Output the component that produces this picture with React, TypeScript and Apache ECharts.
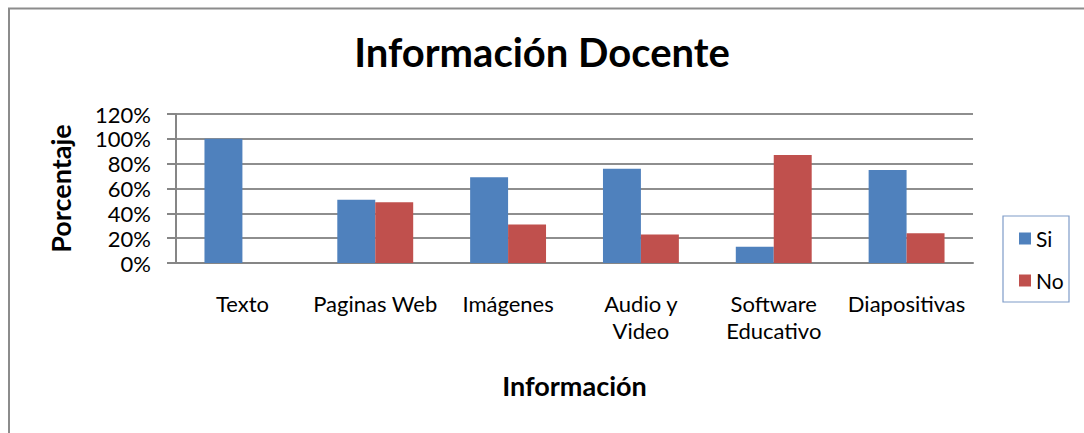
import React, { useEffect, useRef } from "react";
import * as echarts from "echarts";

const categories = ["Texto", "Paginas Web", "Imágenes", "Audio y\nVideo", "Software\nEducativo", "Diapositivas"];
const siValues = [100, 51, 69, 76, 13, 75];
const noValues = [0, 49, 31, 23, 87, 24];
const yTicks = [0, 20, 40, 60, 80, 100, 120];

const FONT = "Lato, 'Liberation Sans', sans-serif";

export default function App() {
  const ref = useRef<HTMLDivElement>(null);
  useEffect(() => {
    if (!ref.current) return;
    const chart = echarts.init(ref.current, null, { renderer: "svg" });
    chart.setOption({
      animation: false,
      backgroundColor: "#ffffff",
      title: {
        text: "Información Docente",
        left: "center",
        top: 27,
        textStyle: { fontFamily: FONT, fontSize: 40, fontWeight: "bold", color: "#000" },
      },
      legend: {
        orient: "vertical",
        left: 1014,
        top: 223,
        itemWidth: 12,
        itemHeight: 12,
        itemGap: 21,
        itemTextGap: 5,
        icon: "rect",
        textStyle: { fontFamily: FONT, fontSize: 21, color: "#000" },
        data: ["Si", "No"],
      },
      graphic: [
        {
          type: "rect",
          shape: { x: 9, y: 8.5, width: 1100, height: 460 },
          style: { fill: "none", stroke: "#8c8c8c", lineWidth: 2 },
        },
        {
          type: "rect",
          shape: { x: 1003, y: 216, width: 66, height: 86 },
          style: { fill: "none", stroke: "#7f9cc8", lineWidth: 1.2 },
        },
      ],
      grid: { left: 176, right: 111, top: 114, bottom: 170 },
      xAxis: {
        type: "category",
        data: categories,
        name: "Información",
        nameLocation: "middle",
        nameGap: 109,
        nameTextStyle: { fontFamily: FONT, fontSize: 27, fontWeight: "bold", color: "#000" },
        axisLine: { lineStyle: { color: "#868686", width: 2 } },
        axisTick: { show: false },
        axisLabel: {
          interval: 0,
          margin: 27,
          fontFamily: FONT,
          fontSize: 22,
          color: "#000",
          lineHeight: 27,
          verticalAlign: "top",
        },
      },
      yAxis: {
        type: "value",
        min: 0,
        max: 120,
        interval: 20,
        name: "Porcentaje",
        nameLocation: "middle",
        nameGap: 102,
        nameRotate: 90,
        nameTextStyle: { fontFamily: FONT, fontSize: 27, fontWeight: "bold", color: "#000" },
        axisLine: { show: true, lineStyle: { color: "#868686", width: 2 } },
        axisTick: { show: true, length: 9, inside: false, lineStyle: { color: "#868686", width: 2 } },
        axisLabel: {
          margin: 25,
          fontFamily: FONT,
          fontSize: 22,
          color: "#000",
          formatter: (v: number) => (yTicks.includes(v) ? `${v}%` : ""),
        },
        splitLine: { lineStyle: { color: "#8e8e8e", width: 2 } },
      },
      series: [
        {
          name: "Si",
          type: "bar",
          data: siValues,
          itemStyle: { color: "#4F81BD" },
          barGap: "0%",
          barCategoryGap: "42.86%",
        },
        {
          name: "No",
          type: "bar",
          data: noValues,
          itemStyle: { color: "#C0504D" },
          barGap: "0%",
          barCategoryGap: "42.86%",
        },
      ],
    });
    return () => chart.dispose();
  }, []);
  return (
    <div
      ref={ref}
      style={{ position: "fixed", left: 0, top: 0, width: 1084, height: 433 }}
    />
  );
}
